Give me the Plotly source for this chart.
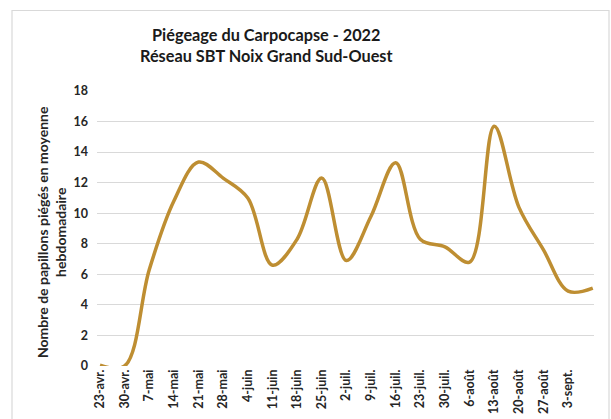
import plotly.graph_objects as go

labels = ["23-avr.", "30-avr.", "7-mai", "14-mai", "21-mai", "28-mai", "4-juin",
          "11-juin", "18-juin", "25-juin", "2-juil.", "9-juil.", "16-juil.",
          "23-juil.", "30-juil.", "6-août", "13-août", "20-août", "27-août",
          "3-sept.", ""]
values = [0.05, 0.0, 6.3, 10.8, 13.35, 12.3, 11.0, 6.6, 8.3, 12.3, 6.9, 9.8,
          13.3, 8.3, 7.8, 6.8, 15.7, 10.4, 7.6, 4.9, 5.1]
x_idx = list(range(len(values)))

W, H = 611, 419
ml, mr, mt, mb = 97, 17, 91, 53
pw = W - ml - mr
ph = H - mt - mb

FONT = "Lato"
fig = go.Figure()
fig.add_trace(go.Scatter(
    x=x_idx, y=values, mode="lines",
    line=dict(color="#BE8E32", width=3.5, shape="spline", smoothing=1.0),
    hoverinfo="skip", showlegend=False, cliponaxis=True,
))

def px_x(px):
    return (px - ml) / pw

def px_y(py):
    return (H - mb - py) / ph

fig.update_layout(
    width=W, height=H,
    margin=dict(l=ml, r=mr, t=mt, b=mb, autoexpand=False),
    paper_bgcolor="white", plot_bgcolor="white",
    font=dict(family=FONT, color="#262626"),
    xaxis=dict(
        range=[-0.12, 20.05], tickmode="array", tickvals=x_idx, ticktext=labels,
        tickangle=-90, tickfont=dict(size=12.5, family=FONT, color="#262626", weight="bold"),
        showgrid=False, zeroline=False, showline=False, ticks="", fixedrange=True,
        automargin=False,
    ),
    yaxis=dict(
        range=[0, 18], dtick=2, tick0=0, showgrid=True, gridcolor="#D9D9D9", gridwidth=1,
        zeroline=False, showline=False, ticks="", automargin=False,
        tickfont=dict(size=12.5, family=FONT, color="#262626", weight="bold"),
        ticklabelstandoff=8,
    ),
    shapes=[dict(type="rect", xref="paper", yref="paper",
                 x0=px_x(12), x1=px_x(609), y0=px_y(440), y1=px_y(10.5),
                 line=dict(color="#D9D9D9", width=1.2), fillcolor="rgba(0,0,0,0)",
                 layer="below")],
    annotations=[
        dict(text="<b>Piégeage du Carpocapse - 2022</b><br><b>Réseau SBT Noix Grand Sud-Ouest</b>",
             xref="paper", yref="paper", x=px_x(266), y=px_y(23),
             xanchor="center", yanchor="top", showarrow=False,
             font=dict(size=16.3, family=FONT, color="#1a1a1a")),
        dict(text="<b>Nombre de papillons piégés en moyenne</b><br><b>hebdomadaire</b>",
             xref="paper", yref="paper", x=px_x(51), y=px_y(232),
             xanchor="center", yanchor="middle", textangle=-90, showarrow=False,
             font=dict(size=14, family=FONT, color="#262626")),
    ],
)

fig.write_html("out.html", config={"displayModeBar": False, "staticPlot": True},
               post_script="document.body.style.margin='0';")
